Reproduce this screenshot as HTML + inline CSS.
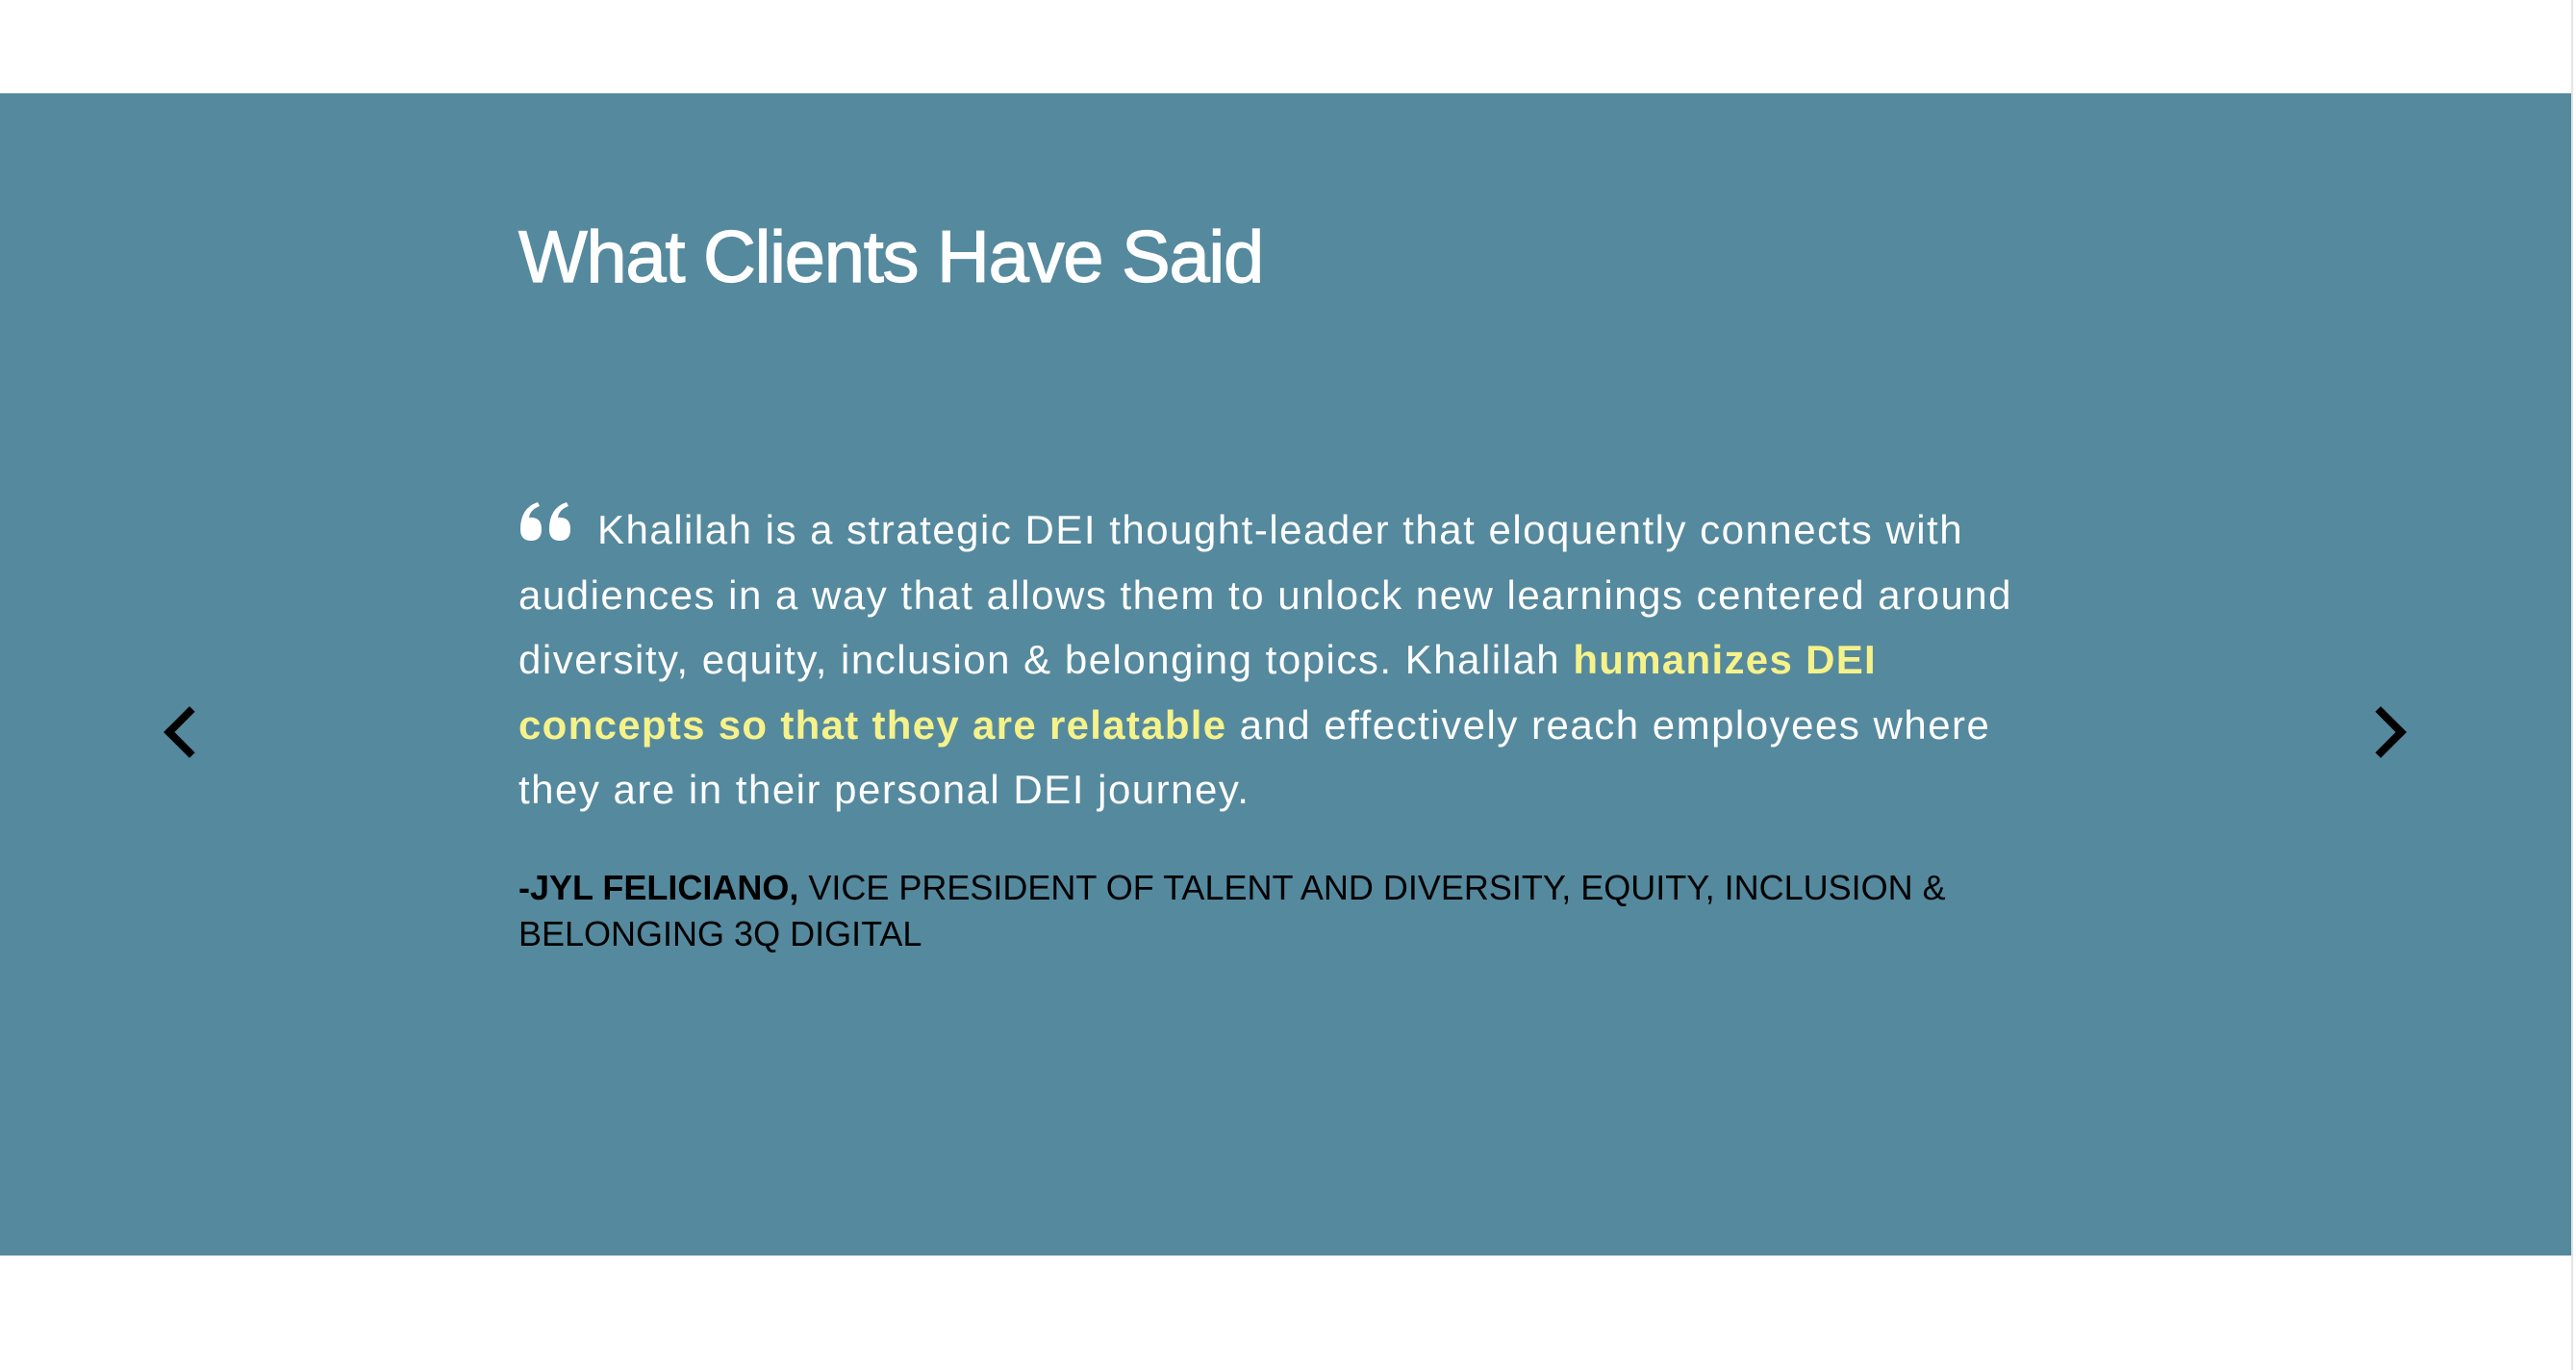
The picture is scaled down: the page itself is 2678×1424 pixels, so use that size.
<!DOCTYPE html>
<html><head><meta charset="utf-8"><style>
html,body{margin:0;padding:0;width:2678px;height:1424px;background:#fff;overflow:hidden;font-family:"Liberation Sans",sans-serif}
#band{position:absolute;left:0;top:97px;width:2673px;height:1208px;background:#55899e}
#edge{position:absolute;left:2673px;top:0;width:2px;height:1424px;background:#e4e4e4}
#title{position:absolute;left:539px;top:230px;font-size:76px;color:#fff;letter-spacing:-1.3px;white-space:nowrap;line-height:1;-webkit-text-stroke:1.2px #fff}
.q{position:absolute;left:539px;font-size:42px;letter-spacing:1.5px;color:#fff;white-space:nowrap;line-height:1}
.hl{color:#f6f28a;font-weight:bold;letter-spacing:1.3px}
.a{position:absolute;left:539px;font-size:36px;color:#000;white-space:nowrap;line-height:1}
.arrow{position:absolute;width:30px;height:30px;border-top:8px solid #000;border-left:8px solid #000}
</style></head><body>
<div id="band"></div>
<div id="edge"></div>
<div id="title">What Clients Have Said</div>
<svg style="position:absolute;left:539px;top:520px" width="58" height="44">
<path d="M2 30 Q2 8 20 2 L22 6 Q12 10 11 18 Q24 17 24 30 Q24 42 13 42 Q2 42 2 30Z M32 30 Q32 8 50 2 L52 6 Q42 10 41 18 Q54 17 54 30 Q54 42 43 42 Q32 42 32 30Z" fill="#fff"/>
</svg>
<div class="q" style="left:621px;top:530px">Khalilah is a strategic DEI thought-leader that eloquently connects with</div>
<div class="q" style="top:598px">audiences in a way that allows them to unlock new learnings centered around</div>
<div class="q" style="top:665px">diversity, equity, inclusion &amp; belonging topics. Khalilah <span class="hl">humanizes DEI</span></div>
<div class="q" style="top:733px"><span class="hl">concepts so that they are relatable</span> and effectively reach employees where</div>
<div class="q" style="top:800px">they are in their personal DEI journey.</div>
<div class="a" style="top:905px"><b>-JYL FELICIANO,</b> VICE PRESIDENT OF TALENT AND DIVERSITY, EQUITY, INCLUSION &amp;</div>
<div class="a" style="top:953px">BELONGING 3Q DIGITAL</div>
<div class="arrow" style="left:178px;top:742px;transform:rotate(-45deg)"></div>
<div class="arrow" style="left:2456px;top:742px;transform:rotate(135deg)"></div>
</body></html>
